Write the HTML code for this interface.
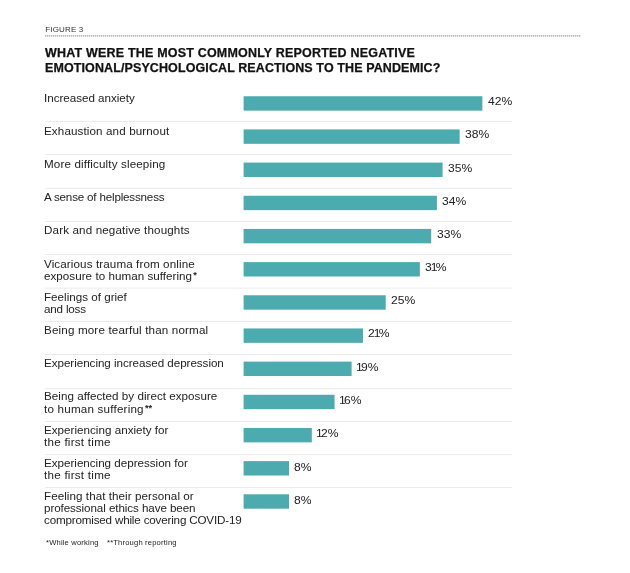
<!DOCTYPE html>
<html><head><meta charset="utf-8"><title>Figure 3</title>
<style>
html,body{margin:0;padding:0;background:#fff;}
body{width:630px;height:573px;position:relative;overflow:hidden;font-family:"Liberation Sans",sans-serif;color:#222;}
.abs{position:absolute;white-space:nowrap;}
.fig{left:45.3px;top:24.9px;font-size:8px;letter-spacing:0.149px;color:#333;line-height:10px;}
.title{left:45.0px;font-size:11.9px;font-weight:bold;color:#111;line-height:14px;transform:scaleX(1.05);transform-origin:0 0;-webkit-text-stroke:0.25px #111;}
.lbl{left:44.2px;font-size:11.3px;line-height:12.3px;color:#222;transform:scaleX(1.03);transform-origin:0 0;}
.lbl b{font-size:9px;letter-spacing:0;margin-left:1.2px;line-height:0;position:relative;top:-1.8px}
.pct{font-size:11.8px;line-height:14px;color:#222;letter-spacing:0.05px;transform:scaleX(1.025);transform-origin:0 0}
.pct i{font-style:normal;margin-left:-1px;margin-right:-1.7px}
.foot{top:538.3px;font-size:7.4px;color:#222;line-height:9px;transform:scaleX(1.03);transform-origin:0 0;}
</style></head><body>
<div class="abs fig" id="fig">FIGURE 3</div>

<div class="abs title" id="t0" style="top:46.4px;letter-spacing:0.192px">WHAT WERE THE MOST COMMONLY REPORTED NEGATIVE</div>
<div class="abs title" id="t1" style="top:60.7px;letter-spacing:0.108px">EMOTIONAL/PSYCHOLOGICAL REACTIONS TO THE PANDEMIC?</div>
<div class="abs lbl" style="top:91.8px;letter-spacing:-0.023px"><span id="l0_0">Increased anxiety</span></div>
<div class="abs pct" style="top:94.2px;left:487.8px">42%</div>
<div class="abs lbl" style="top:124.9px;letter-spacing:0.109px"><span id="l1_0">Exhaustion and burnout</span></div>
<div class="abs pct" style="top:127.3px;left:465.0px">38%</div>
<div class="abs lbl" style="top:158.1px;letter-spacing:0.132px"><span id="l2_0">More difficulty sleeping</span></div>
<div class="abs pct" style="top:160.5px;left:448.0px">35%</div>
<div class="abs lbl" style="top:191.3px;letter-spacing:-0.188px"><span id="l3_0">A sense of helplessness</span></div>
<div class="abs pct" style="top:193.7px;left:442.3px">34%</div>
<div class="abs lbl" style="top:224.4px;letter-spacing:0.130px"><span id="l4_0">Dark and negative thoughts</span></div>
<div class="abs pct" style="top:226.8px;left:436.6px">33%</div>
<div class="abs lbl" style="top:257.6px;letter-spacing:0.101px"><span id="l5_0">Vicarious trauma from online</span></div>
<div class="abs lbl" style="top:269.9px;letter-spacing:0.030px"><span id="l5_1">exposure to human suffering</span><b>*</b></div>
<div class="abs pct" style="top:260.0px;left:425.2px">3<i>1</i>%</div>
<div class="abs lbl" style="top:290.8px;letter-spacing:0.001px"><span id="l6_0">Feelings of grief</span></div>
<div class="abs lbl" style="top:303.1px;letter-spacing:-0.187px"><span id="l6_1">and loss</span></div>
<div class="abs pct" style="top:293.2px;left:391.1px">25%</div>
<div class="abs lbl" style="top:323.9px;letter-spacing:0.147px"><span id="l7_0">Being more tearful than normal</span></div>
<div class="abs pct" style="top:326.3px;left:368.4px">2<i>1</i>%</div>
<div class="abs lbl" style="top:357.1px;letter-spacing:-0.039px"><span id="l8_0">Experiencing increased depression</span></div>
<div class="abs pct" style="top:359.5px;left:357.0px"><i>1</i>9%</div>
<div class="abs lbl" style="top:390.3px;letter-spacing:0.024px"><span id="l9_0">Being affected by direct exposure</span></div>
<div class="abs lbl" style="top:402.6px;letter-spacing:0.195px"><span id="l9_1">to human suffering</span><b>**</b></div>
<div class="abs pct" style="top:392.7px;left:340.0px"><i>1</i>6%</div>
<div class="abs lbl" style="top:423.5px;letter-spacing:0.012px"><span id="l10_0">Experiencing anxiety for</span></div>
<div class="abs lbl" style="top:435.8px;letter-spacing:0.237px"><span id="l10_1">the first time</span></div>
<div class="abs pct" style="top:425.9px;left:317.2px"><i>1</i>2%</div>
<div class="abs lbl" style="top:456.6px;letter-spacing:-0.016px"><span id="l11_0">Experiencing depression for</span></div>
<div class="abs lbl" style="top:468.9px;letter-spacing:0.237px"><span id="l11_1">the first time</span></div>
<div class="abs pct" style="top:459.7px;left:293.6px">8%</div>
<div class="abs lbl" style="top:489.8px;letter-spacing:0.054px"><span id="l12_0">Feeling that their personal or</span></div>
<div class="abs lbl" style="top:502.1px;letter-spacing:-0.082px"><span id="l12_1">professional ethics have been</span></div>
<div class="abs lbl" style="top:514.4px;letter-spacing:-0.172px"><span id="l12_2">compromised while covering COVID-19</span></div>
<div class="abs pct" style="top:492.9px;left:293.6px">8%</div>
<svg class="abs" style="left:0;top:0" width="630" height="573" viewBox="0 0 630 573"><line x1="45" y1="35.9" x2="581" y2="35.9" stroke="#d4d4d4" stroke-width="1"/><line x1="45" y1="35.9" x2="581" y2="35.9" stroke="#999" stroke-width="1" stroke-dasharray="1 1"/><rect x="243.60" y="96.25" width="238.77" height="14.40" fill="#4cabae"/><rect x="45" y="121.00" width="467" height="1" fill="#ebebeb"/><rect x="243.60" y="129.42" width="216.03" height="14.40" fill="#4cabae"/><rect x="45" y="154.00" width="467" height="1" fill="#ebebeb"/><rect x="243.60" y="162.59" width="198.97" height="14.40" fill="#4cabae"/><rect x="45" y="187.80" width="467" height="1" fill="#ebebeb"/><rect x="243.60" y="195.76" width="193.29" height="14.40" fill="#4cabae"/><rect x="45" y="221.00" width="467" height="1" fill="#ebebeb"/><rect x="243.60" y="228.93" width="187.60" height="14.40" fill="#4cabae"/><rect x="45" y="254.00" width="467" height="1" fill="#ebebeb"/><rect x="243.60" y="262.10" width="176.23" height="14.40" fill="#4cabae"/><rect x="45" y="287.60" width="467" height="1" fill="#ebebeb"/><rect x="243.60" y="295.27" width="142.12" height="14.40" fill="#4cabae"/><rect x="45" y="321.00" width="467" height="1" fill="#ebebeb"/><rect x="243.60" y="328.44" width="119.38" height="14.40" fill="#4cabae"/><rect x="45" y="354.00" width="467" height="1" fill="#ebebeb"/><rect x="243.60" y="361.61" width="108.01" height="14.40" fill="#4cabae"/><rect x="45" y="388.10" width="467" height="1" fill="#ebebeb"/><rect x="243.60" y="394.78" width="90.96" height="14.40" fill="#4cabae"/><rect x="45" y="421.00" width="467" height="1" fill="#ebebeb"/><rect x="243.60" y="427.95" width="68.22" height="14.40" fill="#4cabae"/><rect x="45" y="454.10" width="467" height="1" fill="#ebebeb"/><rect x="243.60" y="461.12" width="45.48" height="14.40" fill="#4cabae"/><rect x="45" y="487.00" width="467" height="1" fill="#ebebeb"/><rect x="243.60" y="494.29" width="45.48" height="14.40" fill="#4cabae"/></svg>
<div class="abs foot" id="foot1" style="left:46.3px;letter-spacing:0.162px">*While working</div>
<div class="abs foot" id="foot2" style="left:106.8px;letter-spacing:0.166px">**Through reporting</div>
</body></html>
